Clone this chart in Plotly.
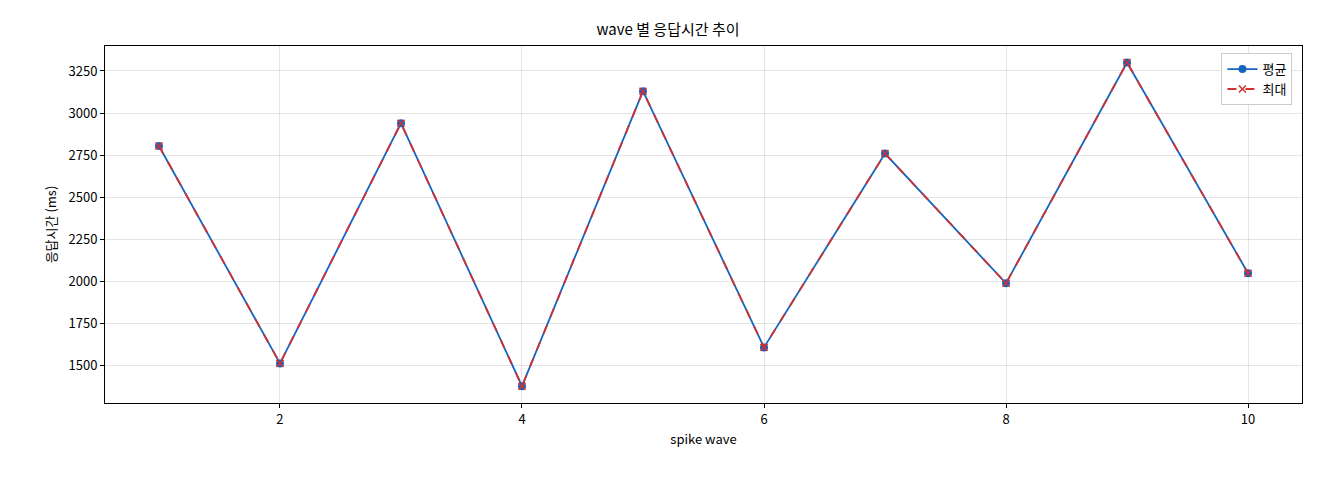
import plotly.graph_objects as go

waves = [1, 2, 3, 4, 5, 6, 7, 8, 9, 10]
avg_ms = [2805, 1515, 2940, 1380, 3130, 1610, 2760, 1990, 3300, 2050]
max_ms = [2805, 1515, 2940, 1380, 3130, 1610, 2760, 1990, 3300, 2050]

FONT = "Noto Sans CJK KR, DejaVu Sans"

fig = go.Figure()
fig.add_trace(go.Scatter(
    x=waves, y=avg_ms, name="평균", mode="lines+markers",
    line=dict(color="#1565c0", width=1.8),
    marker=dict(symbol="circle", size=8, color="#1565c0"),
))
fig.add_trace(go.Scatter(
    x=waves, y=max_ms, name="최대", mode="lines+markers",
    line=dict(color="#d32f2f", width=1.8, dash="dash"),
    marker=dict(symbol="x-thin", size=7, color="#d32f2f", line=dict(width=1.5, color="#d32f2f")),
))

axis = dict(
    showline=True, linecolor="black", linewidth=1, mirror=True,
    ticks="outside", ticklen=4, tickcolor="black",
    showgrid=True, gridcolor="rgba(0,0,0,0.1)", zeroline=False,
    tickfont=dict(size=13, color="black"),
)
fig.update_layout(
    width=1320, height=480,
    paper_bgcolor="white", plot_bgcolor="white",
    font=dict(family=FONT, color="black"),
    margin=dict(l=97, r=26, t=38, b=85),
    title=dict(text="wave 별 응답시간 추이", x=0.5, xanchor="center", y=0.965, font=dict(size=15)),
    xaxis=dict(axis, range=[0.554, 10.446], tickvals=[2, 4, 6, 8, 10],
               title=dict(text="spike wave", font=dict(size=13), standoff=8)),
    yaxis=dict(axis, range=[1280, 3398], dtick=250,
               title=dict(text="응답시간 (ms)", font=dict(size=13), standoff=8)),
    legend=dict(x=0.992, y=0.98, xanchor="right", yanchor="top",
                bgcolor="white", bordercolor="#cccccc", borderwidth=1,
                font=dict(size=13)),
    showlegend=True,
)
fig.write_html("out.html")
